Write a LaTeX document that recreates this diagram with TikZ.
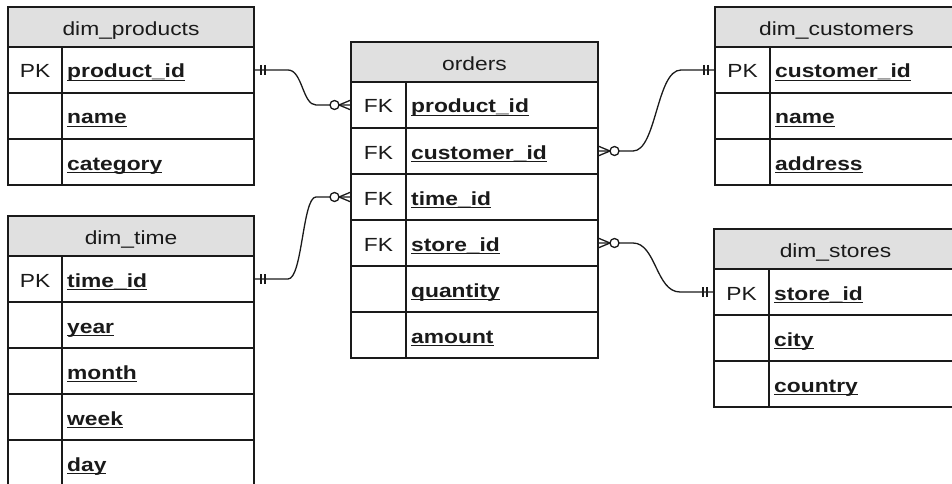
\documentclass[tikz,border=0pt]{standalone}
\usepackage{fontspec}
\setmainfont[FakeStretch=1.2]{Liberation Sans}
\usetikzlibrary{calc}
\definecolor{hdrgray}{HTML}{E0E0E0}
\definecolor{ink}{HTML}{1A1A1A}
\newcommand\ulx[1]{\sbox0{#1}\rlap{\rule[-3pt]{\wd0}{1.3pt}}\usebox0}
\tikzset{
 border/.style={draw=ink, line width=1.5pt},
 hdr/.style={border, fill=hdrgray, minimum height=40pt, inner sep=0pt, outer sep=0pt},
 rowbox/.style={border, fill=white, minimum height=46pt, inner sep=0pt, outer sep=0pt},
 txt/.style={inner sep=0pt, text=ink, font=\fontsize{19}{22}\selectfont},
 fld/.style={inner sep=0pt, text=ink, font=\fontsize{19}{22}\selectfont\bfseries},
 conn/.style={draw=ink, line width=1.3pt},
}
\newcommand\ertbl[7]{%
  \node[hdr, minimum width=#4pt, anchor=north west] (#1-h) at (#2,#3) {};
  \node[txt, anchor=base] (#1-t) at ($(#1-h.center)+(0,-8.5pt)$) {#6};
  \foreach [count=\i] \k/\f in {#7} {
    \node[rowbox, minimum width=#4pt, anchor=north west] (#1-\i) at (#2,#3+40+46*\i-46) {};
    \draw[border] ($(#1-\i.north west)+(#5pt,0)$) -- ($(#1-\i.south west)+(#5pt,0)$);
    \node[txt, anchor=base] (#1-\i-k) at ($(#1-\i.west)+(#5pt/2,-8pt)$) {\k};
    \node[fld, anchor=base west] (#1-\i-f) at ($(#1-\i.west)+(#5pt+5pt,-8pt)$) {\ulx{\f}};
  }
}
\newcommand\onemk[2]{%
  \draw[conn] ($(#1)+(#2*7pt,5pt)$) -- ($(#1)+(#2*7pt,-5pt)$)
              ($(#1)+(#2*11pt,5pt)$) -- ($(#1)+(#2*11pt,-5pt)$);}
\newcommand\manymk[2]{%
  \draw[conn] ($(#1)+(#2*12pt,0)$) -- ($(#1)+(0,5pt)$)
              ($(#1)+(#2*12pt,0)$) -- ($(#1)+(0,-5pt)$);
  \draw[conn, fill=white] ($(#1)+(#2*16.5pt,0)$) circle (4.5pt);}
\newcommand\relcurve[4]{% one-end anchor, one-dir, many-end anchor, many-dir
  \coordinate (mid) at ($(#1)!0.5!(#3)$);
  \draw[conn] (#1) -- ($(#1)+(#2*34pt,0)$)
     .. controls (mid |- #1) and (mid |- #3) .. ($(#3)+(#4*35pt,0)$) -- (#3);
  \onemk{#1}{#2}
  \manymk{#3}{#4}}
\begin{document}
\begin{tikzpicture}[x=1pt,y=-1pt]
\useasboundingbox (0,0) rectangle (952,484);
\clip (0,0) rectangle (952,484);
\ertbl{p}{8}{7}{246}{54}{dim\_products}{PK/product\_id,{}/name,{}/category}
\ertbl{t}{8}{216}{246}{54}{dim\_time}{PK/time\_id,{}/year,{}/month,{}/week,{}/day}
\ertbl{o}{351}{42}{247}{55}{orders}{FK/product\_id,FK/customer\_id,FK/time\_id,FK/store\_id,{}/quantity,{}/amount}
\ertbl{c}{715}{7}{243}{55}{dim\_customers}{PK/customer\_id,{}/name,{}/address}
\ertbl{s}{714}{229}{243}{55}{dim\_stores}{PK/store\_id,{}/city,{}/country}
\relcurve{p-1.east}{1}{o-1.west}{-1}
\relcurve{t-1.east}{1}{o-3.west}{-1}
\relcurve{c-1.west}{-1}{o-2.east}{1}
\relcurve{s-1.west}{-1}{o-4.east}{1}
\end{tikzpicture}
\end{document}
